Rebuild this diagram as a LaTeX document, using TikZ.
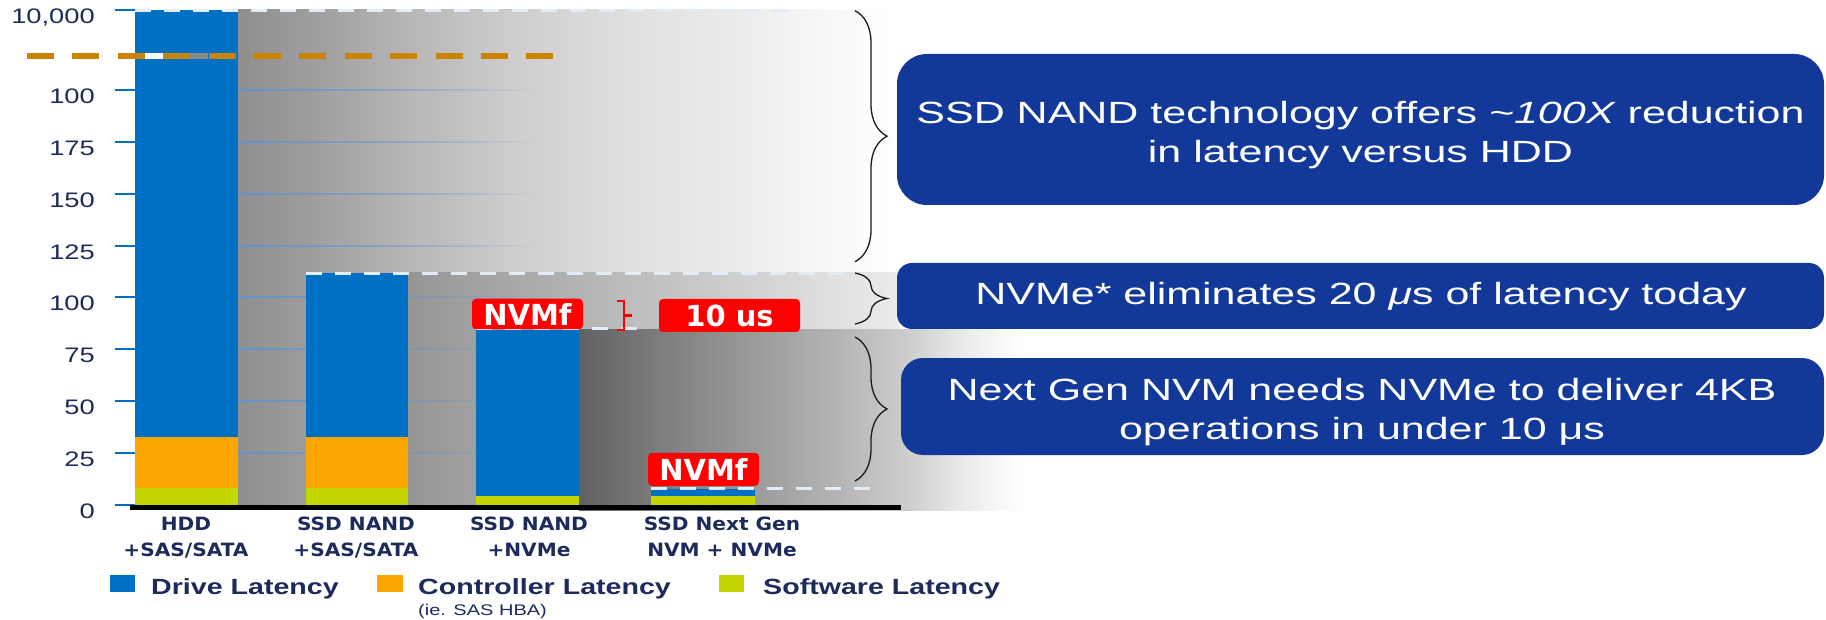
\documentclass[tikz,border=0pt]{standalone}
\usepackage{fontspec}
\usetikzlibrary{decorations.pathreplacing,fadings}

% Typefaces (widened to the proportions of the chart lettering)
\newfontfamily\boxfont[FakeStretch=1.4]{Liberation Sans}
\newfontfamily\numfont[FakeStretch=1.3]{Liberation Sans}
\newfontfamily\keyfont[FakeStretch=1.3]{Liberation Sans}
\newfontfamily\catfont[FakeStretch=1.1]{DejaVu Sans}
\newfontfamily\tagfont{DejaVu Sans}

% Palette
\definecolor{drive}{HTML}{0070C4}
\definecolor{ctrl}{HTML}{FDA500}
\definecolor{soft}{HTML}{C4D600}
\definecolor{navy}{HTML}{1C2B5C}
\definecolor{boxblue}{HTML}{12389A}
\definecolor{tagred}{HTML}{FF0000}
\definecolor{breakorange}{HTML}{C98400}
\definecolor{topdash}{HTML}{E2ECF8}
\definecolor{gridblue}{HTML}{6294D2}
\definecolor{bracegray}{HTML}{1A1A1A}
\definecolor{bandBleft}{gray}{0.585}
\definecolor{bandBright}{gray}{0.925}
\definecolor{breakgray}{HTML}{8A8A8A}

% Grey backdrops that fade out to the right of each bar
\pgfdeclarehorizontalshading{bandA}{100bp}{%
  rgb(0bp)=(0.56,0.56,0.56); rgb(25bp)=(0.56,0.56,0.56);
  rgb(30bp)=(0.61,0.61,0.61); rgb(36bp)=(0.69,0.69,0.69);
  rgb(44.5bp)=(0.79,0.79,0.79); rgb(52.5bp)=(0.86,0.86,0.86);
  rgb(56.5bp)=(0.886,0.886,0.886); rgb(64bp)=(0.93,0.93,0.93);
  rgb(71.5bp)=(0.98,0.98,0.98); rgb(75bp)=(1,1,1); rgb(100bp)=(1,1,1)}
\pgfdeclarehorizontalshading{bandC}{100bp}{%
  rgb(0bp)=(0.38,0.38,0.38); rgb(25bp)=(0.38,0.38,0.38);
  rgb(31bp)=(0.455,0.455,0.455); rgb(42.5bp)=(0.585,0.585,0.585);
  rgb(53.8bp)=(0.705,0.705,0.705); rgb(61.5bp)=(0.80,0.80,0.80);
  rgb(67bp)=(0.9,0.9,0.9); rgb(72bp)=(0.97,0.97,0.97);
  rgb(75bp)=(1,1,1); rgb(100bp)=(1,1,1)}
\tikzfading[name=fadeout, left color=transparent!10, right color=transparent!100]

\begin{document}
\begin{tikzpicture}[x=1pt, y=-1pt,
  axtick/.style={draw=drive, line width=2.7pt},
  gridrule/.style={fill=gridblue, path fading=fadeout},
  leveldash/.style={draw=topdash, line width=3pt, dash pattern=on 16pt off 13pt},
  redtag/.style={fill=tagred, text=white, rounded corners=4pt, inner sep=0pt,
    font=\tagfont\bfseries\fontsize{29}{29}\selectfont},
  curly/.style={draw=bracegray, line width=1.3pt, decorate,
    decoration={brace, amplitude=32pt}},
  infobox/.style={fill=boxblue, draw=none, inner sep=0pt},
  infotext/.style={text=white, align=center, inner sep=0pt,
    font=\boxfont\fontsize{30.7}{39}\selectfont},
  ynum/.style={anchor=base east, inner sep=0pt, text=navy,
    font=\numfont\fontsize{21}{21}\selectfont},
  catlabel/.style={anchor=base, inner sep=0pt, text=navy,
    font=\catfont\bfseries\fontsize{18.3}{18.3}\selectfont},
  keybox/.style={anchor=north west, inner sep=0pt, minimum width=25pt, minimum height=17pt},
  keytext/.style={anchor=base west, inner sep=0pt, text=navy,
    font=\keyfont\bfseries\fontsize{22}{22}\selectfont},
]
\useasboundingbox (0,0) rectangle (1826,620);
\fill[white] (0,0) rectangle (1826,620);

% backdrops
\shade[shading=bandA] (238,10) rectangle (895,505);
\shade[left color=bandBleft, right color=bandBright] (408,273) rectangle (900,505);
\foreach \yy in {90,142,194,246,297,349,401,453}
  \fill[gridrule] (238,\yy-1) rectangle (540,\yy+1);
\shade[shading=bandC] (579,330) rectangle (1025,510);

% stacked bars
\fill[drive] (135,10) rectangle (238,437);
\fill[ctrl]  (135,437) rectangle (238,488);
\fill[soft]  (135,488) rectangle (238,505);

\fill[drive] (306,273) rectangle (408,437);
\fill[ctrl]  (306,437) rectangle (408,488);
\fill[soft]  (306,488) rectangle (408,505);

\fill[drive] (476,330) rectangle (579,496);
\fill[soft]  (476,496) rectangle (579,505);

\fill[drive] (651,489) rectangle (755,496);
\fill[soft]  (651,496) rectangle (755,505);

% axis break
\fill[white] (145,53.5) rectangle (162.7,59.5);
\fill[breakgray] (190,53.5) rectangle (207.7,59.5);
\draw[breakorange, line width=6pt, dash pattern=on 27pt off 18.4pt] (27,56.5) -- (553,56.5);

% level markers
\draw[leveldash] (135,11) -- (800,11);
\draw[leveldash] (306,273.5) -- (853,273.5);
\draw[leveldash] (476,329) -- (643,329);
\draw[leveldash] (651,488) -- (873,488);

% y axis
\foreach \yy/\lab in {10/{10,000},90/100,142/175,194/150,246/125,297/100,349/75,401/50,453/25,505/0}{
  \draw[axtick] (115,\yy) -- (135,\yy);
  \node[ynum] (ylab\yy) at (95,\yy+13.5) {\lab};
}
\draw[black, line width=5pt] (130,507.5) -- (901,507.5);

% category labels
\node[catlabel] (hddA) at (186,530.7) {HDD};
\node[catlabel] (hddB) at (186,556.7) {+SAS/SATA};
\node[catlabel] (sasA) at (356,530.7) {SSD NAND};
\node[catlabel] (sasB) at (356,556.7) {+SAS/SATA};
\node[catlabel] (nvmeA) at (529,530.7) {SSD NAND};
\node[catlabel] (nvmeB) at (529,556.7) {+NVMe};
\node[catlabel] (nextA) at (722,530.7) {SSD Next Gen};
\node[catlabel] (nextB) at (722,556.7) {NVM + NVMe};

% legend
\node[keybox, fill=drive] (keyDrive) at (110,575) {};
\node[keytext] (keyDriveT) at (151,594) {Drive Latency};
\node[keybox, fill=ctrl, minimum width=26pt] (keyCtrl) at (377,575) {};
\node[keytext] (keyCtrlT) at (418,594) {Controller Latency};
\node[anchor=base west, inner sep=0pt, text=navy,
  font=\keyfont\fontsize{15.4}{15.4}\selectfont] (keyCtrlNote) at (418,615.5) {(ie. SAS HBA)};
\node[keybox, fill=soft] (keySoft) at (719,575) {};
\node[keytext] (keySoftT) at (763,594) {Software Latency};

% NVMf tags and the 10 us gap
\node[redtag, minimum width=111pt, minimum height=30.5pt] (nvmfA) at (527.5,314) {NVMf};
\node[redtag, minimum width=111pt, minimum height=33pt] (nvmfB) at (703.5,469.3) {NVMf};
\node[redtag, minimum width=141pt, minimum height=33pt] (tenus) at (729.5,315.5) {10 us};
\coordinate (rbTop) at (617,301);
\coordinate (rbBot) at (617,330);
\coordinate (rbTip) at (632,315.5);
\draw[tagred, line width=2.5pt] (rbTop) -- (624,301) -- (624,330) -- (rbBot);
\draw[tagred, line width=2.5pt] (624,315.5) -- (rbTip);

% braces
\coordinate (b1t) at (855,10.7);  \coordinate (b1b) at (855,261.7);
\coordinate (b2t) at (855,273);   \coordinate (b2b) at (855,324);
\coordinate (b3t) at (855,337);   \coordinate (b3b) at (855,481);
\draw[curly] (b1t) -- (b1b);
\draw[curly] (b2t) -- (b2b);
\draw[curly] (b3t) -- (b3b);

% call-out boxes
\node[infobox, minimum width=927pt, minimum height=151pt, rounded corners=30pt] (box1) at (1360.5,129.5) {};
\node[infotext] (box1t) at (1360.5,135.5) {SSD NAND technology offers \textit{\textasciitilde100X} reduction\\in latency versus HDD};
\node[infobox, minimum width=927pt, minimum height=66pt, rounded corners=15pt] (box2) at (1360.5,296) {};
\node[infotext] (box2t) at (1361,297) {NVMe* eliminates 20 \textit{μ}s of latency today};
\node[infobox, minimum width=923pt, minimum height=97pt, rounded corners=22pt] (box3) at (1362.5,406.5) {};
\node[infotext] (box3t) at (1362,412.5) {Next Gen NVM needs NVMe to deliver 4KB\\operations in under 10 μs};
\end{tikzpicture}
\end{document}
